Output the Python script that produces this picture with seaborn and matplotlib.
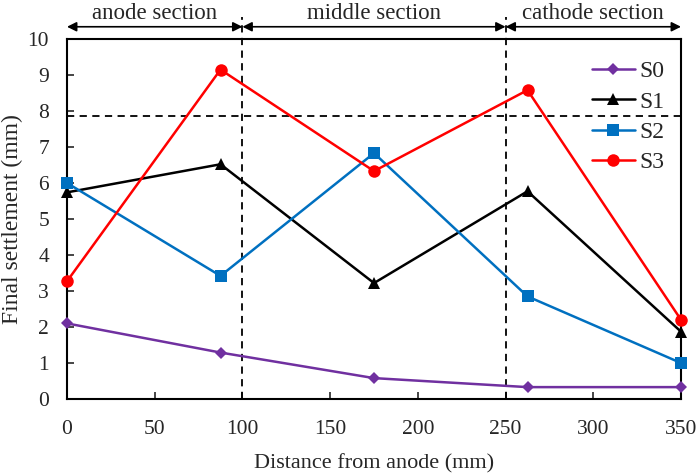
import numpy as np
import pandas as pd
import seaborn as sns
import matplotlib.pyplot as plt

# data
distance = [0, 87.5, 175, 262.5, 350]
s0 = [2.10, 1.29, 0.58, 0.33, 0.33]
s1 = [5.74, 6.52, 3.22, 5.77, 1.87]
s2 = [6.00, 3.42, 6.83, 2.85, 1.00]
s3 = [3.27, 9.15, 6.33, 8.58, 2.20]
series_names = ['S0', 'S1', 'S2', 'S3']
limit_line = 7.86
section_edges = [0, 100, 250, 350]
section_labels = ['anode section', 'middle section', 'cathode section']

df = pd.DataFrame({'distance': distance, 'S0': s0, 'S1': s1, 'S2': s2, 'S3': s3})
long_df = df.melt(id_vars='distance', var_name='series', value_name='settlement')

sns.set_style("ticks")
plt.rcParams['font.family'] = ['Liberation Serif', 'DejaVu Serif']

palette = {'S0': '#7030A0', 'S1': '#000000', 'S2': '#0070C0', 'S3': '#FF0000'}
markers = {'S0': 'D', 'S1': '^', 'S2': 's', 'S3': 'o'}
msize = {'S0': 6, 'S1': 8, 'S2': 8, 'S3': 9}

fig = plt.figure(figsize=(6.99, 4.73), dpi=100)
ax = fig.add_axes([67 / 699, 74 / 473, 614 / 699, 360 / 473])

for name in series_names:
    sub = long_df[long_df['series'] == name]
    sns.lineplot(data=sub, x='distance', y='settlement', ax=ax, color=palette[name],
                 marker=markers[name], markersize=msize[name], markeredgewidth=0,
                 linewidth=1.8, label=name, clip_on=False, zorder=3)

ax.set_xlim(0, 350)
ax.set_ylim(0, 10)
ax.set_xticks(np.arange(0, 351, 50))
ax.set_yticks(np.arange(0, 11, 1))
ax.tick_params(direction='in', length=5, width=1.2, labelsize=15.5)
ax.tick_params(axis='x', pad=15)
ax.tick_params(axis='y', pad=13)
for sp in ax.spines.values():
    sp.set_linewidth(1.5)
    sp.set_color('black')
ax.set_xlabel('Distance from anode (mm)', fontsize=16, labelpad=11)
ax.set_ylabel('Final settlement (mm)', fontsize=17)
ax.yaxis.set_label_coords(-0.072, 0.5)

# horizontal reference line
ax.axhline(limit_line, color='black', linestyle=(0, (4, 3)), linewidth=1.3, zorder=2)

# section boundaries and arrows above the plot
arrow_y = 10.34
for xb in section_edges[1:-1]:
    ax.plot([xb, xb], [0, 10.6], color='black', linestyle=(0, (4, 3)), linewidth=1.3,
            clip_on=False, zorder=2)
for i, lab in enumerate(section_labels):
    x0, x1 = section_edges[i], section_edges[i + 1]
    ax.annotate('', xy=(x1, arrow_y), xytext=(x0, arrow_y), xycoords='data',
                arrowprops=dict(arrowstyle='<|-|>', color='black', lw=1.2,
                                mutation_scale=14, shrinkA=0, shrinkB=0),
                annotation_clip=False)
    ax.text((x0 + x1) / 2, arrow_y + 0.37, lab, ha='center', va='center', fontsize=16.5,
            clip_on=False)

ax.legend(loc='upper right', bbox_to_anchor=(1.0, 0.985), frameon=False, fontsize=17,
          handlelength=1.8, labelspacing=0.37, handletextpad=0.2, borderaxespad=0.3)

fig.savefig('out.png', dpi=100)
